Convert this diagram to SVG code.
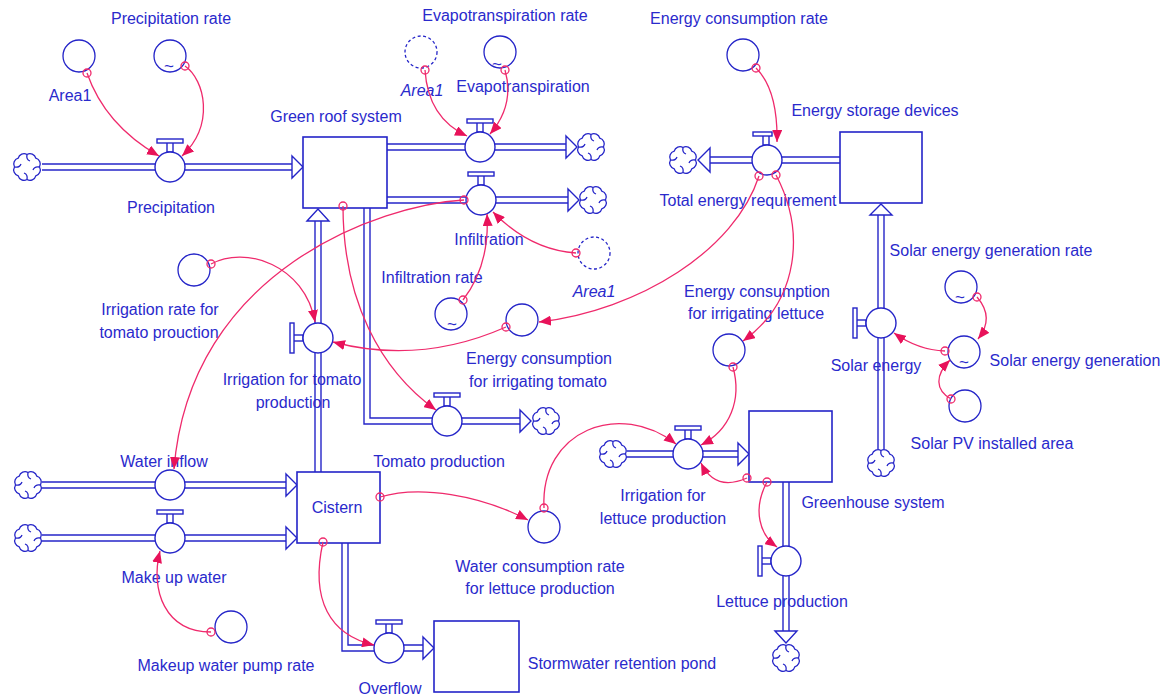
<svg xmlns="http://www.w3.org/2000/svg" xmlns:xlink="http://www.w3.org/1999/xlink" width="1168" height="699" viewBox="0 0 1168 699">
  <style>
    .bg { fill: #ffffff; }
    .pipe-out { fill: none; stroke: #2424c8; stroke-width: 7.4; }
    .pipe-in { fill: none; stroke: #ffffff; stroke-width: 4.6; }
    .pipe-head { fill: #ffffff; stroke: #2424c8; stroke-width: 1.4; stroke-linejoin: miter; }
    .stock { fill: #ffffff; stroke: #2424c8; stroke-width: 1.6; }
    .vbody { fill: #ffffff; stroke: #2424c8; stroke-width: 1.4; }
    .cloud { fill: #ffffff; stroke: #2424c8; stroke-width: 1.3; }
    .aux { fill: none; stroke: #2424c8; stroke-width: 1.3; }
    .shadow { stroke-dasharray: 3 2.5; }
    .lbl { font-family: "Liberation Sans", Arial, sans-serif; font-size: 16px; fill: #2a2acc; text-anchor: middle; }
    .it { font-style: italic; }
    .tilde { font-family: "Liberation Sans", Arial, sans-serif; font-size: 17px; fill: #2a2acc; text-anchor: middle; }
    .link { fill: none; stroke: #ef2a6c; stroke-width: 1.3; marker-end: url(#ah); }
    .tail { fill: none; stroke: #ef2a6c; stroke-width: 1.3; }
  </style>
  <defs>
    <marker id="ah" viewBox="0 0 12 10" markerWidth="12" markerHeight="10" refX="12" refY="5" orient="auto" markerUnits="userSpaceOnUse">
      <path d="M0,0 L12,5 L0,10 z" fill="#e8125a"/>
    </marker>
    <!-- source / sink cloud -->
    <g id="cloud">
      <path class="cloud" d="M12.5,0 A6,6 0 0 1 8.8,8.8 A6,6 0 0 1 0,12.5 A6,6 0 0 1 -8.8,8.8 A6,6 0 0 1 -12.5,0 A6,6 0 0 1 -8.8,-8.8 A6,6 0 0 1 0,-12.5 A6,6 0 0 1 8.8,-8.8 A6,6 0 0 1 12.5,0 Z"/>
      <path class="cloud" fill="none" d="M0,-12.5 q-1,5 3,6.5 M12.5,0 q-5,-1 -6.5,3 M0,12.5 q1,-5 -3,-6.5 M-12.5,0 q5,1 6.5,-3"/>
    </g>
    <!-- valve with handle on top (horizontal flow) -->
    <g id="valve-h">
      <rect class="vbody" x="-3" y="-25" width="6" height="10"/>
      <rect class="vbody" x="-13" y="-28" width="26" height="4"/>
      <circle class="vbody" r="15"/>
    </g>
    <!-- same valve, handle set off to the left -->
    <g id="valve-h-left">
      <rect class="vbody" x="-4" y="-25" width="6" height="10"/>
      <rect class="vbody" x="-14" y="-28" width="19" height="4"/>
      <circle class="vbody" r="15"/>
    </g>
    <!-- valve with handle on the left (vertical flow) -->
    <g id="valve-v">
      <rect class="vbody" x="-25" y="-3" width="10" height="6"/>
      <rect class="vbody" x="-28" y="-15" width="4" height="30"/>
      <circle class="vbody" r="15"/>
    </g>
    <g id="valve-n">
      <circle class="vbody" r="15"/>
    </g>
    <!-- pipe centre lines -->
    <path id="p-precip" d="M42,167 H293"/>
    <path id="p-evap" d="M387,147 H567"/>
    <path id="p-infil" d="M387,200 H569"/>
    <path id="p-total" d="M840,160 H709"/>
    <path id="p-irrtom" d="M318,472 V220"/>
    <path id="p-tomprod" d="M367,208 V421 H521"/>
    <path id="p-waterin" d="M42,485 H287"/>
    <path id="p-makeup" d="M42,538 H287"/>
    <path id="p-overflow" d="M345,543 V648 H424"/>
    <path id="p-irrlet" d="M627,454 H739"/>
    <path id="p-letprod" d="M786,482 V632"/>
    <path id="p-solar" d="M881,449 V214"/>
  </defs>

  <rect class="bg" x="0" y="0" width="1168" height="699"/>

  <!-- material flow pipes -->
  <g id="flow-pipes">
    <g class="pipe-out">
      <use xlink:href="#p-precip"/><use xlink:href="#p-evap"/><use xlink:href="#p-infil"/><use xlink:href="#p-total"/>
      <use xlink:href="#p-irrtom"/><use xlink:href="#p-tomprod"/><use xlink:href="#p-waterin"/><use xlink:href="#p-makeup"/>
      <use xlink:href="#p-overflow"/><use xlink:href="#p-irrlet"/><use xlink:href="#p-letprod"/><use xlink:href="#p-solar"/>
    </g>
    <g class="pipe-in">
      <use xlink:href="#p-precip"/><use xlink:href="#p-evap"/><use xlink:href="#p-infil"/><use xlink:href="#p-total"/>
      <use xlink:href="#p-irrtom"/><use xlink:href="#p-tomprod"/><use xlink:href="#p-waterin"/><use xlink:href="#p-makeup"/>
      <use xlink:href="#p-overflow"/><use xlink:href="#p-irrlet"/><use xlink:href="#p-letprod"/><use xlink:href="#p-solar"/>
    </g>
    <g class="pipe-head">
      <polygon points="292,156 303,167 292,178"/>
      <polygon points="566,136 577,147 566,158"/>
      <polygon points="568,189 579,200 568,211"/>
      <polygon points="710,148 698,160 710,172"/>
      <polygon points="307,221 318,209 329,221"/>
      <polygon points="520,410 531,421 520,432"/>
      <polygon points="286,474 297,485 286,496"/>
      <polygon points="286,527 297,538 286,549"/>
      <polygon points="423,637 434,648 423,659"/>
      <polygon points="738,443 749,454 738,465"/>
      <polygon points="775,631 786,643 797,631"/>
      <polygon points="870,215 881,204 892,215"/>
    </g>
  </g>

  <!-- sources and sinks -->
  <g id="cloud-precip"><use xlink:href="#cloud" x="27" y="167"/></g>
  <g id="cloud-evap"><use xlink:href="#cloud" x="591" y="147"/></g>
  <g id="cloud-infil"><use xlink:href="#cloud" x="593" y="200"/></g>
  <g id="cloud-total"><use xlink:href="#cloud" x="683" y="160"/></g>
  <g id="cloud-tomprod"><use xlink:href="#cloud" x="546" y="421"/></g>
  <g id="cloud-waterin"><use xlink:href="#cloud" x="28" y="485"/></g>
  <g id="cloud-makeup"><use xlink:href="#cloud" x="28" y="538"/></g>
  <g id="cloud-irrlet"><use xlink:href="#cloud" x="613" y="454"/></g>
  <g id="cloud-letprod"><use xlink:href="#cloud" x="786" y="658"/></g>
  <g id="cloud-solar"><use xlink:href="#cloud" x="881" y="463"/></g>

  <!-- stocks -->
  <g id="green-roof-system">
    <rect class="stock" x="303" y="137" width="84" height="71"/>
    <text class="lbl" x="336" y="122">Green roof system</text>
  </g>
  <g id="energy-storage-devices">
    <rect class="stock" x="840" y="132" width="82" height="71"/>
    <text class="lbl" x="875" y="116">Energy storage devices</text>
  </g>
  <g id="cistern">
    <rect class="stock" x="297" y="472" width="83" height="71"/>
    <text class="lbl" x="337" y="513">Cistern</text>
  </g>
  <g id="stormwater-retention-pond">
    <rect class="stock" x="434" y="621" width="85" height="71"/>
    <text class="lbl" x="622" y="669">Stormwater retention pond</text>
  </g>
  <g id="greenhouse-system">
    <rect class="stock" x="749" y="411" width="83" height="71"/>
    <text class="lbl" x="873" y="508">Greenhouse system</text>
  </g>

  <!-- flows (valves) -->
  <g id="precipitation">
    <use xlink:href="#valve-h" x="170" y="167"/>
    <text class="lbl" x="171" y="213">Precipitation</text>
  </g>
  <g id="evapotranspiration-rate">
    <use xlink:href="#valve-h" x="480" y="147"/>
    <text class="lbl" x="505" y="21">Evapotranspiration rate</text>
  </g>
  <g id="infiltration">
    <use xlink:href="#valve-h" x="481" y="200"/>
    <text class="lbl" x="489" y="245">Infiltration</text>
  </g>
  <g id="total-energy-requirement">
    <use xlink:href="#valve-h-left" x="767" y="160"/>
    <text class="lbl" x="748" y="206">Total energy requirement</text>
  </g>
  <g id="irrigation-for-tomato-production">
    <use xlink:href="#valve-v" x="318" y="338"/>
    <text class="lbl" x="292" y="385">Irrigation for tomato<tspan x="293" dy="23">production</tspan></text>
  </g>
  <g id="tomato-production">
    <use xlink:href="#valve-h" x="447" y="421"/>
    <text class="lbl" x="439" y="467">Tomato production</text>
  </g>
  <g id="water-inflow">
    <use xlink:href="#valve-n" x="170" y="485"/>
    <text class="lbl" x="164" y="467">Water inflow</text>
  </g>
  <g id="make-up-water">
    <use xlink:href="#valve-h" x="170" y="538"/>
    <text class="lbl" x="174" y="583">Make up water</text>
  </g>
  <g id="overflow">
    <use xlink:href="#valve-h" x="389" y="648"/>
    <text class="lbl" x="390" y="694">Overflow</text>
  </g>
  <g id="irrigation-for-lettuce-production">
    <use xlink:href="#valve-h" x="688" y="454"/>
    <text class="lbl" x="663" y="501">Irrigation for<tspan x="663" dy="23">lettuce production</tspan></text>
  </g>
  <g id="lettuce-production">
    <use xlink:href="#valve-v" x="786" y="561"/>
    <text class="lbl" x="782" y="607">Lettuce production</text>
  </g>
  <g id="solar-energy">
    <use xlink:href="#valve-v" x="881" y="323"/>
    <text class="lbl" x="876" y="371">Solar energy</text>
    <text class="lbl" x="991" y="256">Solar energy generation rate</text>
  </g>

  <!-- auxiliaries -->
  <g id="area1">
    <circle class="aux" cx="79" cy="56" r="16"/>
    <text class="lbl" x="70" y="101">Area1</text>
  </g>
  <g id="precipitation-rate">
    <circle class="aux" cx="170" cy="56" r="16"/>
    <text class="tilde" x="169" y="72">~</text>
    <text class="lbl" x="171" y="24">Precipitation rate</text>
  </g>
  <g id="area1-shadow-evap">
    <circle class="aux shadow" cx="421" cy="52" r="16"/>
    <text class="lbl it" x="422" y="96">Area1</text>
  </g>
  <g id="evapotranspiration">
    <circle class="aux" cx="500" cy="52" r="16"/>
    <text class="tilde" x="497" y="70">~</text>
    <text class="lbl" x="523" y="92">Evapotranspiration</text>
  </g>
  <g id="energy-consumption-rate">
    <circle class="aux" cx="743" cy="55" r="16"/>
    <text class="lbl" x="739" y="24">Energy consumption rate</text>
  </g>
  <g id="area1-shadow-infil">
    <circle class="aux shadow" cx="594" cy="253" r="16"/>
    <text class="lbl it" x="594" y="297">Area1</text>
  </g>
  <g id="infiltration-rate">
    <circle class="aux" cx="451" cy="314" r="16"/>
    <text class="tilde" x="452" y="330">~</text>
    <text class="lbl" x="432" y="283">Infiltration rate</text>
  </g>
  <g id="irrigation-rate-for-tomato-prouction">
    <circle class="aux" cx="194" cy="270" r="16"/>
    <text class="lbl" x="160" y="315">Irrigation rate for<tspan x="159" dy="23">tomato prouction</tspan></text>
  </g>
  <g id="energy-consumption-for-irrigating-tomato">
    <circle class="aux" cx="522" cy="320" r="16"/>
    <text class="lbl" x="539" y="364">Energy consumption<tspan x="538" dy="23">for irrigating tomato</tspan></text>
  </g>
  <g id="energy-consumption-for-irrigating-lettuce">
    <circle class="aux" cx="729" cy="350" r="16"/>
    <text class="lbl" x="757" y="297">Energy consumption<tspan x="756" dy="22">for irrigating lettuce</tspan></text>
  </g>
  <g id="water-consumption-rate-for-lettuce-production">
    <circle class="aux" cx="544" cy="527" r="16"/>
    <text class="lbl" x="540" y="572">Water consumption rate<tspan x="540" dy="22">for lettuce production</tspan></text>
  </g>
  <g id="makeup-water-pump-rate">
    <circle class="aux" cx="231" cy="627" r="16"/>
    <text class="lbl" x="226" y="671">Makeup water pump rate</text>
  </g>
  <g id="solar-energy-generation-rate-lookup">
    <circle class="aux" cx="961" cy="287" r="16"/>
    <text class="tilde" x="960" y="303">~</text>
  </g>
  <g id="solar-energy-generation">
    <circle class="aux" cx="964" cy="352" r="16"/>
    <text class="tilde" x="964" y="368">~</text>
    <text class="lbl" x="1075" y="366">Solar energy generation</text>
  </g>
  <g id="solar-pv-installed-area">
    <circle class="aux" cx="965" cy="406" r="16"/>
    <text class="lbl" x="992" y="449">Solar PV installed area</text>
  </g>

  <!-- information links -->
  <g id="links">
    <path class="link" d="M87,73 Q105,125 159,156"/>
    <path class="link" d="M185,66 C205,80 215,125 182,156"/>
    <path class="link" d="M425,70 Q428,118 467,136"/>
    <path class="link" d="M505,70 Q515,105 490,134"/>
    <path class="link" d="M756,68 Q778,90 777,142"/>
    <path class="link" d="M464,200 C380,205 190,270 174,469"/>
    <path class="link" d="M343,206 C343,300 380,370 436,410"/>
    <path class="link" d="M211,264 C245,245 305,265 315,322"/>
    <path class="link" d="M506,327 Q420,365 333,342"/>
    <path class="link" d="M759,176 C735,250 640,310 539,322"/>
    <path class="link" d="M776,175 C805,230 800,300 743,341"/>
    <path class="link" d="M576,253 Q530,250 493,212"/>
    <path class="link" d="M463,300 Q490,265 487,214"/>
    <path class="link" d="M380,497 C420,485 480,495 528,520"/>
    <path class="link" d="M323,542 C310,600 330,635 374,645"/>
    <path class="link" d="M544,508 C540,430 620,400 676,444"/>
    <path class="link" d="M733,367 C742,400 730,430 701,445"/>
    <path class="link" d="M747,478 Q715,492 701,463"/>
    <path class="link" d="M767,482 C752,510 760,535 777,547"/>
    <path class="link" d="M211,632 C165,632 150,590 160,551"/>
    <path class="link" d="M977,297 Q995,318 978,339"/>
    <path class="link" d="M945,351 Q918,350 894,333"/>
    <path class="link" d="M951,399 C935,390 935,375 950,360"/>
    <g class="tail">
      <circle cx="87" cy="73" r="4"/>
      <circle cx="185" cy="66" r="4"/>
      <circle cx="425" cy="70" r="4"/>
      <circle cx="505" cy="70" r="4"/>
      <circle cx="756" cy="68" r="4"/>
      <circle cx="464" cy="200" r="4"/>
      <circle cx="343" cy="206" r="4"/>
      <circle cx="211" cy="264" r="4"/>
      <circle cx="506" cy="327" r="4"/>
      <circle cx="759" cy="176" r="4"/>
      <circle cx="776" cy="175" r="4"/>
      <circle cx="576" cy="253" r="4"/>
      <circle cx="463" cy="300" r="4"/>
      <circle cx="380" cy="497" r="4"/>
      <circle cx="323" cy="542" r="4"/>
      <circle cx="544" cy="508" r="4"/>
      <circle cx="733" cy="367" r="4"/>
      <circle cx="747" cy="478" r="4"/>
      <circle cx="767" cy="482" r="4"/>
      <circle cx="211" cy="632" r="4"/>
      <circle cx="977" cy="297" r="4"/>
      <circle cx="945" cy="351" r="4"/>
      <circle cx="951" cy="399" r="4"/>
    </g>
  </g>
</svg>
